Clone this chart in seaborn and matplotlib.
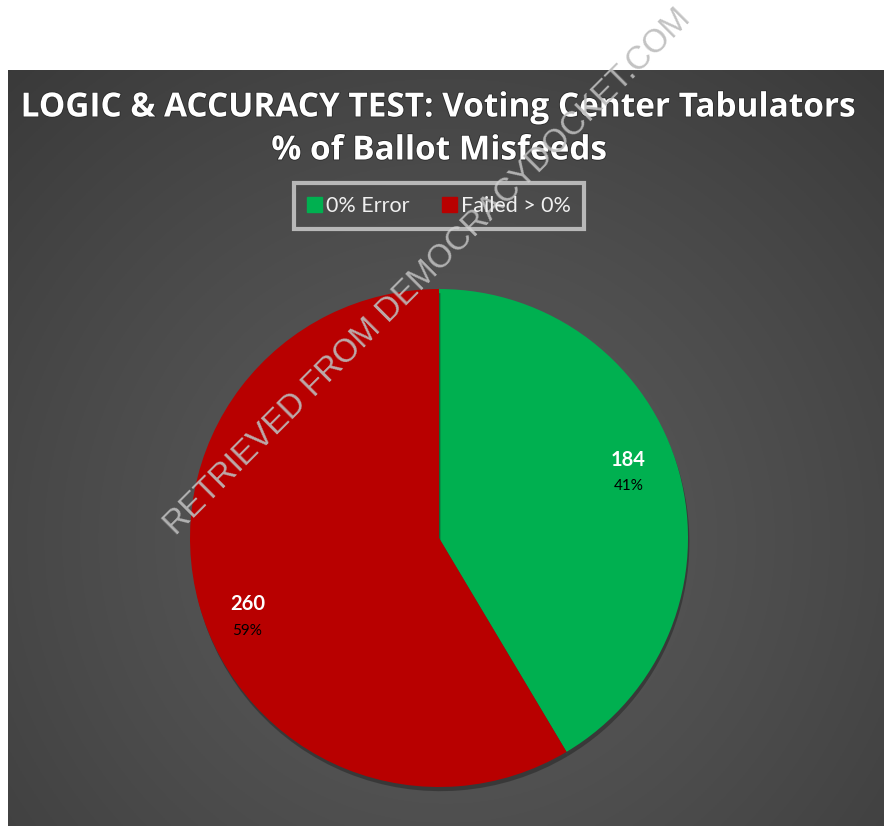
import numpy as np
import pandas as pd
import matplotlib
matplotlib.use("Agg")
import matplotlib.pyplot as plt
import matplotlib.patheffects as pe
from matplotlib.patches import Rectangle
import seaborn as sns

# Tabulator test outcomes
categories = ["0% Error", "Failed > 0%"]
counts = [184, 260]
pct_labels = ["41%", "59%"]
slice_colors = ["#00b050", "#b80000"]

title_lines = ["LOGIC & ACCURACY TEST: Voting Center Tabulators", "% of Ballot Misfeeds"]
watermark = "RETRIEVED FROM DEMOCRACYDOCKET.COM"

df = pd.DataFrame({"category": categories, "count": counts, "pct": pct_labels})

sns.set_theme(style="white")
plt.rcParams["font.family"] = ["Open Sans", "DejaVu Sans"]

W, H = 884, 827
fig = plt.figure(figsize=(W / 100, H / 100), dpi=100)
fig.patch.set_facecolor("white")

# dark panel with a soft radial gradient
px0, py0, px1, py1 = 8, 70, 884, 826
bg = fig.add_axes([px0 / W, 1 - py1 / H, (px1 - px0) / W, (py1 - py0) / H])
yy, xx = np.mgrid[0:1:400j, 0:1:440j]
d = np.sqrt(((xx - 0.5) / 0.75) ** 2 + ((yy - 0.62) / 0.85) ** 2)
shade = np.clip(0.355 - 0.13 * d ** 1.3, 0.2, 0.4)
bg.imshow(np.dstack([shade] * 3), aspect="auto", extent=[0, 1, 0, 1], origin="upper")
bg.set_axis_off()

# pie
cx, cy, r = 439, 538, 249
ax = fig.add_axes([(cx - r) / W, 1 - (cy + r) / H, 2 * r / W, 2 * r / H])
wedges, _ = ax.pie(df["count"], colors=slice_colors, startangle=90, counterclock=False,
                   radius=1.0, center=(0, 0), wedgeprops=dict(linewidth=0))
ax.set_xlim(-1, 1)
ax.set_ylim(-1, 1)
ax.set_aspect("equal")
ax.set_axis_off()
for w in wedges:
    w.set_clip_on(False)
    w.set_path_effects([pe.SimplePatchShadow(offset=(1, -3), shadow_rgbFace="#222222", alpha=0.5),
                        pe.Normal()])

label_pos = [(0.76, 0.265), (-0.77, -0.317)]
for (lx, ly), n, p in zip(label_pos, df["count"], df["pct"]):
    ax.text(lx, ly + 0.05, f"{n}", ha="center", va="center", color="white",
            fontsize=14.5, fontweight="bold", family=["Lato", "DejaVu Sans"])
    ax.text(lx, ly - 0.058, p, ha="center", va="center", color="black",
            fontsize=11, family=["Lato", "DejaVu Sans"])

# title
for line, ypx in zip(title_lines, [108, 151]):
    fig.text(439 / W, 1 - ypx / H, line, ha="center", va="center", color="white",
             fontsize=24, fontweight="bold",
             path_effects=[pe.withStroke(linewidth=1.2, foreground="#2a2a2a")])

# legend
handles = [Rectangle((0, 0), 1, 1, color=c) for c in slice_colors]
leg = fig.legend(handles, df["category"], loc="center", bbox_to_anchor=(439 / W, 1 - 206 / H),
                 ncol=2, frameon=True, handlelength=0.7, handleheight=0.7,
                 handletextpad=0.2, columnspacing=1.5, borderpad=0.6, borderaxespad=0,
                 fancybox=False, prop={"family": ["Lato", "DejaVu Sans"], "size": 15.5})
leg.get_frame().set_facecolor("none")
leg.get_frame().set_edgecolor("#d4d4d4")
leg.get_frame().set_linewidth(3)
for t in leg.get_texts():
    t.set_color("#f0f0f0")

# diagonal stamp across the page
fig.text(428 / W, 1 - 272 / H, watermark, ha="center", va="center", rotation=45,
         rotation_mode="anchor", color="#bcbcbc", alpha=0.9, fontsize=23.5,
         family=["Liberation Sans", "DejaVu Sans"])

fig.savefig("out.png", dpi=100, facecolor=fig.get_facecolor())
